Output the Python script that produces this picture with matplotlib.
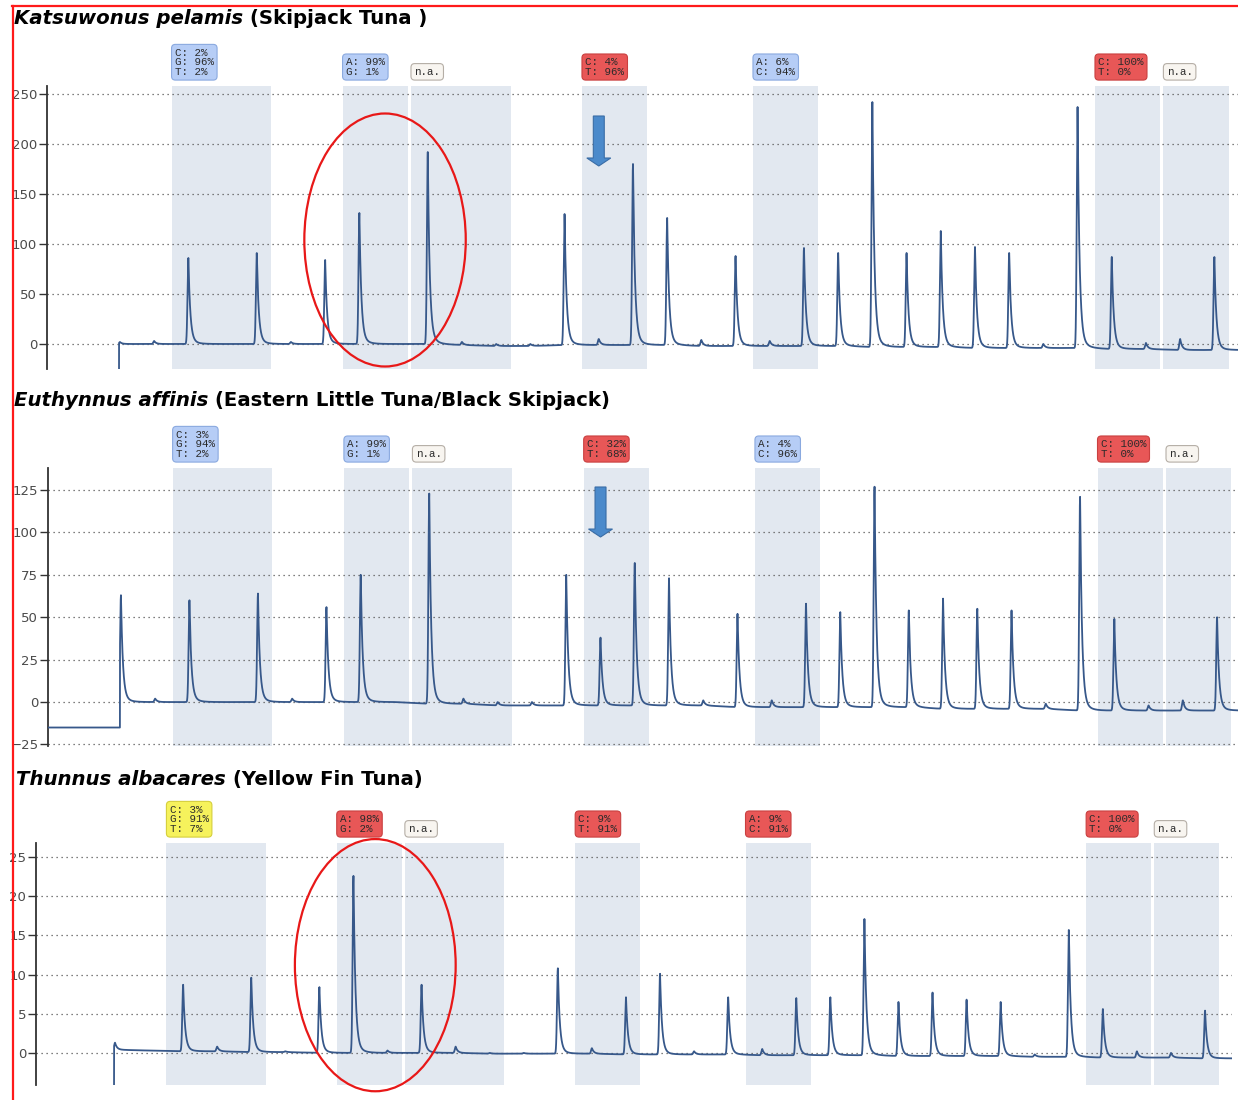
import numpy as np
import matplotlib
matplotlib.use("Agg")
import matplotlib.pyplot as plt
from matplotlib.patches import Ellipse, FancyArrow
from matplotlib.lines import Line2D

# ---------------- data ----------------
dispensations = np.arange(33)

titles_italic = ["Katsuwonus pelamis", "Euthynnus affinis", "Thunnus albacares"]
titles_plain = [" (Skipjack Tuna )", " (Eastern Little Tuna/Black Skipjack)", " (Yellow Fin Tuna)"]

# apex value at each dispensation
kp_heights = [2, 3, 86, 0, 91, 2, 84, 131, 0, 192, 2, 0, 0, 130, 5, 180, 126, 4,
              88, 3, 96, 91, 242, 91, 113, 97, 91, 0, 237, 87, 1, 5, 87]
kp_baseline = [0, 0, 0, 0, 0, 0, 0, 0, 0, 0, -1, -2, -2, -1, -1, -1, -1, -2,
               -2, -2, -2, -2, -3, -3, -3, -4, -4, -4, -4, -5, -5, -6, -6]

ea_heights = [63, 2, 60, 0, 64, 2, 56, 75, 0, 123, 2, 0, 0, 75, 38, 82, 73, 1,
              52, 1, 58, 53, 127, 54, 61, 55, 54, -1, 121, 49, -2, 1, 50]
ea_baseline = [0, 0, 0, 0, 0, 0, 0, 0, 0, -1, -1, -2, -2, -2, -2, -2, -2, -2,
               -3, -3, -3, -3, -3, -3, -4, -4, -4, -4, -5, -5, -5, -5, -5]

ta_heights = [1.3, 0.3, 8.7, 0.8, 9.6, 0.2, 8.4, 22.6, 0.3, 8.7, 0.8, 0, 0, 10.8,
              0.6, 7.1, 10.1, 0.2, 7.1, 0.5, 7.0, 7.1, 17.1, 6.5, 7.7, 6.8, 6.5,
              -0.2, 15.7, 5.6, 0.2, 0.0, 5.4]
ta_baseline = [0.4, 0.3, 0.2, 0.2, 0.1, 0.1, 0, 0, 0, 0, 0, -0.1, -0.1, -0.1, -0.1,
               -0.2, -0.2, -0.2, -0.2, -0.3, -0.3, -0.3, -0.3, -0.4, -0.4, -0.4,
               -0.4, -0.5, -0.5, -0.6, -0.6, -0.6, -0.7]

pre_levels = [-60, -15, -8]

# analysed regions (first, last dispensation)
regions = [(2, 4), (7, 8), (9, 11), (14, 15), (19, 20), (29, 30), (31, 32)]

kp_boxes = [["C: 2%", "G: 96%", "T: 2%"], ["A: 99%", "G: 1%"], ["n.a."],
            ["C: 4%", "T: 96%"], ["A: 6%", "C: 94%"], ["C: 100%", "T: 0%"], ["n.a."]]
kp_kinds = ["blue", "blue", "na", "red", "blue", "red", "na"]
ea_boxes = [["C: 3%", "G: 94%", "T: 2%"], ["A: 99%", "G: 1%"], ["n.a."],
            ["C: 32%", "T: 68%"], ["A: 4%", "C: 96%"], ["C: 100%", "T: 0%"], ["n.a."]]
ea_kinds = ["blue", "blue", "na", "red", "blue", "red", "na"]
ta_boxes = [["C: 3%", "G: 91%", "T: 7%"], ["A: 98%", "G: 2%"], ["n.a."],
            ["C: 9%", "T: 91%"], ["A: 9%", "C: 91%"], ["C: 100%", "T: 0%"], ["n.a."]]
ta_kinds = ["yellow", "red", "na", "red", "red", "red", "na"]

y_ticks = [[0, 50, 100, 150, 200, 250], [-25, 0, 25, 50, 75, 100, 125], [0, 5, 10, 15, 20, 25]]

# annotations (data units of each panel)
arrow_disp = [14, 14, None]
arrow_top = [228, 126.8, None]
arrow_tip = [178, 97.3, None]
ellipse_center = [(7.75, 104), None, (7.64, 11.2)]
ellipse_size = [(4.72, 253), None, (4.72, 32.2)]

# ---------------- layout ----------------
W, H = 1238, 1100
fig = plt.figure(figsize=(W / 100, H / 100), dpi=100)

frames = [(47, 1238, 86, 369), (48, 1238, 468, 746), (36, 1232, 843, 1085)]
ylims = [(-25, 258), (-25.9, 138), (-4.1, 26.8)]
xlims = [(-2.134, 32.69), (-2.13, 32.61), (-2.32, 32.79)]
trace_start = [-0.04, -2.13, -0.12]
title_base = [24, 406, 785]
title_x = [14, 14, 16]

heights_all = [kp_heights, ea_heights, ta_heights]
base_all = [kp_baseline, ea_baseline, ta_baseline]
boxes_all = [kp_boxes, ea_boxes, ta_boxes]
kinds_all = [kp_kinds, ea_kinds, ta_kinds]

box_styles = {
    "blue": dict(fc="#b6cdf6", ec="#8aa9df"),
    "red": dict(fc="#e85757", ec="#c94040"),
    "yellow": dict(fc="#f6f25c", ec="#d5cf3c"),
    "na": dict(fc="#f8f5f0", ec="#b5aea6"),
}
shade = "#e2e8f0"
trace_col = "#37588a"

renderer = fig.canvas.get_renderer()

for p in range(3):
    l, r, t, b = frames[p]
    ax = fig.add_axes([l / W, 1 - b / H, (r - l) / W, (b - t) / H])
    ax.set_xlim(*xlims[p])
    ax.set_ylim(*ylims[p])
    for s in ["top", "right", "bottom"]:
        ax.spines[s].set_visible(False)
    ax.spines["left"].set_color("#333333")
    ax.spines["left"].set_linewidth(1.3)
    ax.set_xticks([])
    ax.set_yticks(y_ticks[p])
    ax.tick_params(axis="y", length=6, width=1.0, color="#333333", pad=1,
                   labelsize=9.5, labelcolor="#4a4a4a")
    ax.yaxis.grid(True, linestyle=(0, (1, 3)), color="#555555", lw=0.9)
    ax.set_axisbelow(True)
    ax.patch.set_alpha(0)

    for (f0, f1) in regions:
        ax.axvspan(f0 - 0.49, f1 + 0.42, color=shade, lw=0, zorder=0)

    x = np.linspace(trace_start[p], xlims[p][1], 40000)
    base = np.interp(x, dispensations, base_all[p])
    y = base.copy()
    for i, h in zip(dispensations, heights_all[p]):
        amp = h - base_all[p][i]
        if amp <= 0:
            continue
        d = x - i
        shape = np.where(d < 0, np.exp(-(d / 0.035) ** 2),
                         0.94 * np.exp(-d / 0.055) + 0.06 * np.exp(-d / 0.18))
        y += amp * shape
    y = np.where(x < -0.03, pre_levels[p], y)
    ax.plot(x, y, color=trace_col, lw=1.3, zorder=3)

    for (f0, f1), lines, kind in zip(regions, boxes_all[p], kinds_all[p]):
        st = box_styles[kind]
        ax.annotate("\n".join(lines), xy=(f0 - 0.49, 1.0),
                    xycoords=("data", "axes fraction"),
                    xytext=(2.3, 6.6), textcoords="offset points",
                    ha="left", va="bottom", fontsize=7.8, family="Liberation Mono",
                    color="#2b2b2b", linespacing=0.95, annotation_clip=False,
                    bbox=dict(boxstyle="round,pad=0.3,rounding_size=0.35",
                              fc=st["fc"], ec=st["ec"], lw=0.8))

    if arrow_disp[p] is not None:
        hl = 8 * (ylims[p][1] - ylims[p][0]) / (b - t)
        ax.add_patch(FancyArrow(arrow_disp[p], arrow_top[p], 0,
                                arrow_tip[p] - arrow_top[p], width=0.32,
                                head_width=0.70, head_length=hl,
                                length_includes_head=True, fc="#4b8acb",
                                ec="#3a6da6", lw=0.8, zorder=4))
    if ellipse_center[p] is not None:
        ax.add_patch(Ellipse(ellipse_center[p], ellipse_size[p][0], ellipse_size[p][1],
                             fill=False, ec="#e81818", lw=1.6, zorder=5, clip_on=False))

    t1 = fig.text(title_x[p] / W, 1 - title_base[p] / H, titles_italic[p],
                  style="italic", weight="bold", fontsize=14.2, va="baseline", ha="left")
    bb = t1.get_window_extent(renderer)
    fig.text(bb.x1 / W, 1 - title_base[p] / H, titles_plain[p],
             weight="bold", fontsize=14.2, va="baseline", ha="left")

fig.add_artist(Line2D([12 / W, 1.0], [1 - 6 / H, 1 - 6 / H], color="#ff1a1a", lw=1.6))
fig.add_artist(Line2D([13 / W, 13 / W], [1 - 6 / H, 0.0], color="#ff1a1a", lw=1.6))

fig.savefig("out.png", dpi=100)
